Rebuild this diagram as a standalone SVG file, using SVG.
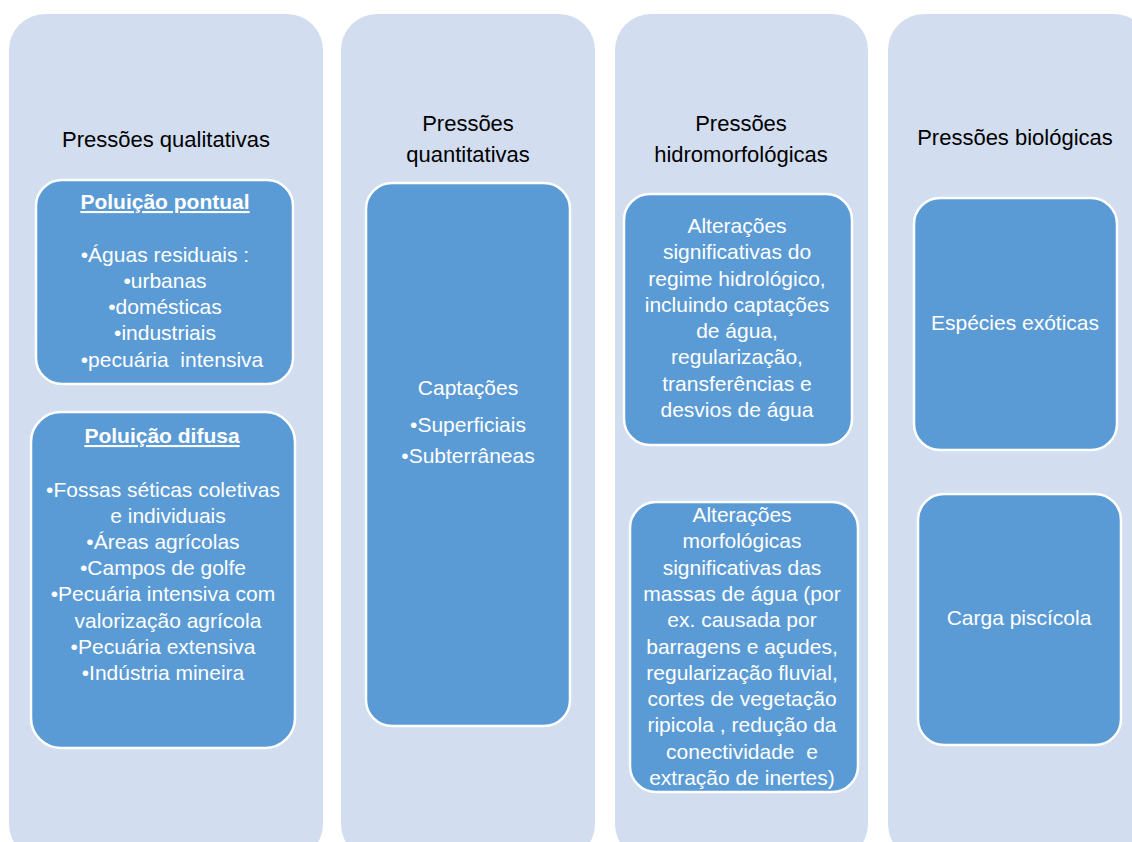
<svg xmlns="http://www.w3.org/2000/svg" width="1132" height="842" viewBox="0 0 1132 842">
<style>
.col{fill:#D2DDEF;}
.box{fill:#5B9BD5;stroke:#FFFFFF;stroke-width:2.5;}
.t{font-family:"Liberation Sans",Arial,sans-serif;font-size:22px;fill:#000000;text-anchor:middle;}
.b{font-family:"Liberation Sans",Arial,sans-serif;font-size:21px;fill:#FFFFFF;text-anchor:middle;}
.h{font-weight:bold;text-decoration:underline;}
</style>
<rect width="1132" height="842" fill="#FFFFFF"/>
<g id="col-qualitativas">
<rect class="col" x="9" y="14" width="314" height="846" rx="36"/>
<text class="t" x="166" y="147">Pressões qualitativas</text>
</g>
<g id="col-quantitativas">
<rect class="col" x="341" y="14" width="254" height="846" rx="36"/>
<text class="t" x="468" y="131">Pressões</text>
<text class="t" x="468" y="162">quantitativas</text>
</g>
<g id="col-hidromorfologicas">
<rect class="col" x="615" y="14" width="253" height="846" rx="36"/>
<text class="t" x="741" y="131">Pressões</text>
<text class="t" x="741" y="162">hidromorfológicas</text>
</g>
<g id="col-biologicas">
<rect class="col" x="888" y="14" width="262" height="846" rx="36"/>
<text class="t" x="1015" y="145">Pressões biológicas</text>
</g>
<g id="node-pontual">
<rect class="box" x="36" y="180" width="257" height="204" rx="26"/>
<text class="b h" x="165" y="209">Poluição pontual</text>
<text class="b" x="165" y="262">•Águas residuais :</text>
<text class="b" x="165" y="288">•urbanas</text>
<text class="b" x="165" y="314">•domésticas</text>
<text class="b" x="165" y="340">•industriais</text>
<text class="b" x="172" y="367" xml:space="preserve">•pecuária  intensiva</text>
</g>
<g id="node-difusa">
<rect class="box" x="31" y="412" width="264" height="336" rx="30"/>
<text class="b h" x="162" y="443">Poluição difusa</text>
<text class="b" x="163" y="497">•Fossas séticas coletivas</text>
<text class="b" x="168" y="523">e individuais</text>
<text class="b" x="163" y="549">•Áreas agrícolas</text>
<text class="b" x="163" y="575">•Campos de golfe</text>
<text class="b" x="163" y="601">•Pecuária intensiva com</text>
<text class="b" x="168" y="628">valorização agrícola</text>
<text class="b" x="163" y="654">•Pecuária extensiva</text>
<text class="b" x="163" y="680">•Indústria mineira</text>
</g>
<g id="node-captacoes">
<rect class="box" x="366" y="183" width="204" height="543" rx="26"/>
<text class="b" x="468" y="395">Captações</text>
<text class="b" x="468" y="432">•Superficiais</text>
<text class="b" x="468" y="463">•Subterrâneas</text>
</g>
<g id="node-hidrologico">
<rect class="box" x="624" y="194" width="228" height="251" rx="26"/>
<text class="b" x="737" y="233">Alterações</text>
<text class="b" x="737" y="259">significativas do</text>
<text class="b" x="737" y="286">regime hidrológico,</text>
<text class="b" x="737" y="312">incluindo captações</text>
<text class="b" x="737" y="338">de água,</text>
<text class="b" x="737" y="364">regularização,</text>
<text class="b" x="737" y="391">transferências e</text>
<text class="b" x="737" y="417">desvios de água</text>
</g>
<g id="node-morfologicas">
<rect class="box" x="630" y="502" width="228" height="290" rx="26"/>
<text class="b" x="742" y="522">Alterações</text>
<text class="b" x="742" y="548">morfológicas</text>
<text class="b" x="742" y="575">significativas das</text>
<text class="b" x="742" y="601">massas de água (por</text>
<text class="b" x="742" y="627">ex. causada por</text>
<text class="b" x="742" y="654">barragens e açudes,</text>
<text class="b" x="742" y="680">regularização fluvial,</text>
<text class="b" x="742" y="706">cortes de vegetação</text>
<text class="b" x="742" y="732">ripicola , redução da</text>
<text class="b" x="742" y="759" xml:space="preserve">conectividade  e</text>
<text class="b" x="742" y="785">extração de inertes)</text>
</g>
<g id="node-exoticas">
<rect class="box" x="914" y="198" width="203" height="252" rx="26"/>
<text class="b" x="1015" y="330">Espécies exóticas</text>
</g>
<g id="node-piscicola">
<rect class="box" x="918" y="494" width="203" height="251" rx="26"/>
<text class="b" x="1019" y="625">Carga piscícola</text>
</g>
<g id="connectors"></g>
</svg>
